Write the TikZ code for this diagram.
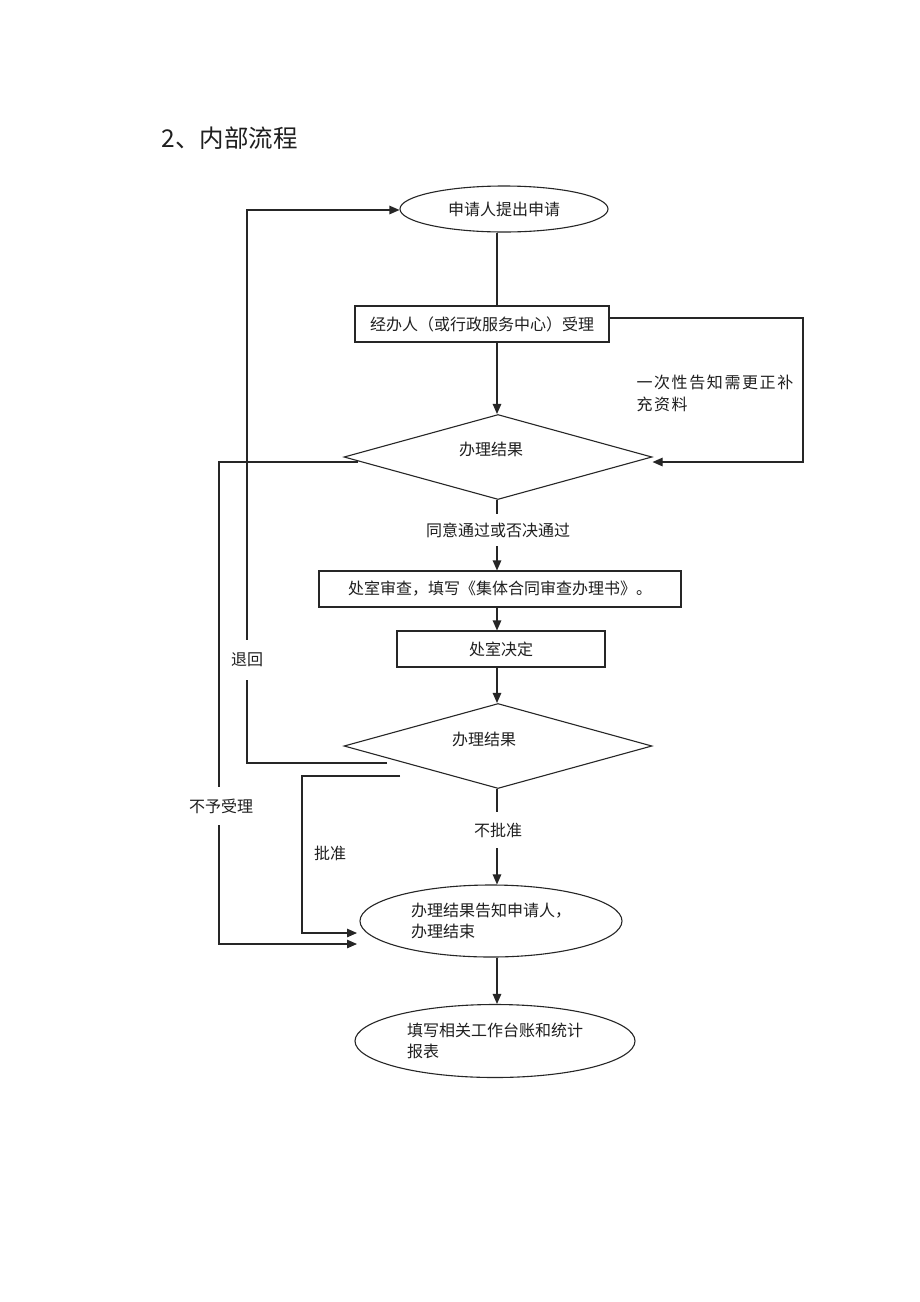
\documentclass[tikz,border=0pt]{standalone}
\usepackage{fontspec}
\newfontfamily\cjk{Noto Sans CJK SC}
\newfontfamily\cjkw[LetterSpace=10]{Noto Sans CJK SC}
\usetikzlibrary{shapes.geometric,arrows.meta}
\begin{document}
\begin{tikzpicture}[x=1pt,y=-1pt,
  every node/.style={font=\cjk\fontsize{16}{21}\selectfont, text=black!88},
  ln/.style={draw=black!85, line width=1.1pt},
  arr/.style={ln, -{Triangle[length=10pt,width=8.5pt]}},
  boxnode/.style={draw=black!85, line width=1.1pt, rectangle, inner sep=0pt},
  ovalnode/.style={draw=black!85, line width=1.1pt, ellipse, inner sep=0pt, align=left},
  decnode/.style={draw=black!85, line width=1.1pt, diamond, inner sep=0pt, minimum width=308pt, minimum height=85pt},
  lab/.style={fill=white, inner sep=0pt}]
\useasboundingbox (0,0) rectangle (920,1302);
\fill[white] (0,0) rectangle (920,1302);

% title
\node[anchor=west, font=\cjk\fontsize{24.5}{28}\selectfont] (title) at (158,138) {2、内部流程};

% nodes
\node[ovalnode, minimum width=208pt, minimum height=46pt] (e1) at (504,209) {申请人提出申请};
\node[boxnode, minimum width=254pt, minimum height=36pt] (r2) at (482,324) {经办人（或行政服务中心）受理};
\node[decnode] (d1) at (498,457) {};
\node (d1t) at (491,449) {办理结果};
\node[boxnode, minimum width=362pt, minimum height=36pt] (r3) at (500,589) {处室审查，填写《集体合同审查办理书》。};
\node[boxnode, minimum width=208pt, minimum height=36pt] (r4) at (501,649) {处室决定};
\node[decnode] (d2) at (498,746) {};
\node (d2t) at (484,739) {办理结果};
\node[ovalnode, minimum width=262pt, minimum height=72pt] (e3) at (491,921) {办理结果告知申请人，\\办理结束};
\node[ovalnode, minimum width=280pt, minimum height=73pt] (e4) at (495,1041) {填写相关工作台账和统计\\报表};

% labels on lines
\node[lab, minimum height=32pt] (l1) at (498,530) {同意通过或否决通过};
\node[lab, minimum height=36pt] (l2) at (498,830) {不批准};
\node[anchor=north west, align=left, font=\cjkw\fontsize{16}{22}\selectfont] (l3) at (633,372) {一次性告知需更正补\\充资料};
\node (l4) at (330,853) {批准};

% coordinates
\coordinate (cx) at (497,0);
\coordinate (rt) at (803,318);
\coordinate (rb) at (803,462);
\coordinate (n0) at (358,462);
\coordinate (n1) at (219,462);
\coordinate (n2) at (219,944);
\coordinate (n3) at (357,944);
\coordinate (t0) at (387,763);
\coordinate (t1) at (247,763);
\coordinate (t2) at (247,210);
\coordinate (p0) at (400,776);
\coordinate (p1) at (302,776);
\coordinate (p2) at (302,933);
\coordinate (p3) at (357,933);

% main column
\draw[ln] (e1.south -| cx) -- (r2.north -| cx);
\draw[arr] (r2.south -| cx) -- (d1.north -| cx);
\draw[ln] (d1.south -| cx) -- (l1.north -| cx);
\draw[arr] (l1.south -| cx) -- (r3.north -| cx);
\draw[arr] (r3.south -| cx) -- (r4.north -| cx);
\draw[arr] (r4.south -| cx) -- (d2.north -| cx);
\draw[ln] (d2.south -| cx) -- (l2.north -| cx);
\draw[arr] (l2.south -| cx) -- (e3.north -| cx);
\draw[arr] (e3.south -| cx) -- (e4.north -| cx);

% right loop
\draw[arr] (r2.east |- rt) -- (rt) -- (rb) -- (rb -| d1.east);

% 不予受理
\draw[arr] (n0) -- (n1) -- (n2) -- (n3);
\node[lab, minimum height=38pt] (l5) at (221,806) {不予受理};

% 退回
\draw[arr] (t0) -- (t1) -- (t2) -- (t2 -| e1.west);
\node[lab, minimum height=40pt] (l6) at (247,660) {退回};

% 批准
\draw[arr] (p0) -- (p1) -- (p2) -- (p3);
\end{tikzpicture}
\end{document}
